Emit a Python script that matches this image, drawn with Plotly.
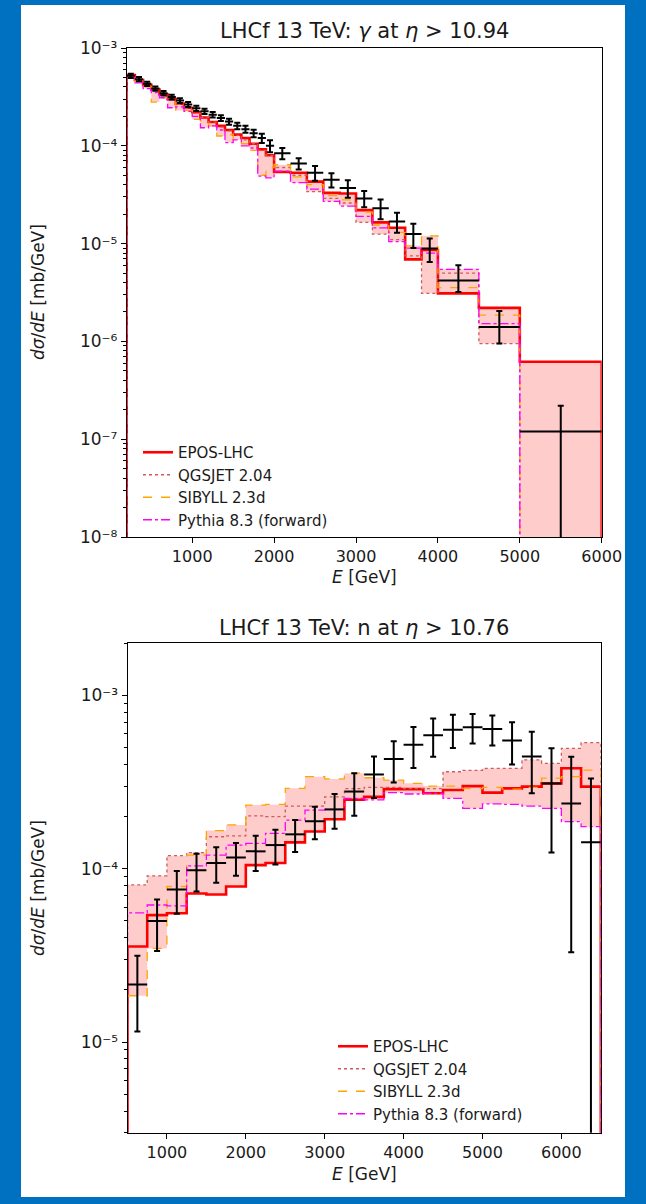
import plotly.graph_objects as go

# ---------------- photon spectrum, eta > 10.94 ----------------
gamma_edges = [200, 300, 400, 500, 600, 700, 800, 900, 1000, 1100, 1200, 1300,
               1400, 1500, 1600, 1700, 1800, 1900, 2000, 2200, 2400, 2600, 2800,
               3000, 3200, 3400, 3600, 3800, 4000, 4500, 5000, 6000]
gamma_data = [5.2e-4, 4.8e-4, 4.3e-4, 3.85e-4, 3.45e-4, 3.15e-4, 2.9e-4, 2.65e-4,
              2.42e-4, 2.25e-4, 2.08e-4, 1.92e-4, 1.77e-4, 1.6e-4, 1.48e-4, 1.34e-4,
              1.2e-4, 1.0e-4, 8.4e-5, 6.6e-5, 5.3e-5, 4.5e-5, 3.7e-5, 2.9e-5,
              2.3e-5, 1.68e-5, 1.25e-5, 8.9e-6, 4.2e-6, 1.4e-6, 1.2e-7]
gamma_err_up = [2.6e-5, 2.4e-5, 2.2e-5, 2.0e-5, 1.8e-5, 1.7e-5, 1.6e-5, 1.5e-5,
                1.45e-5, 1.4e-5, 1.35e-5, 1.3e-5, 1.25e-5, 1.2e-5, 1.2e-5, 1.2e-5,
                1.3e-5, 1.4e-5, 1.1e-5, 8.7e-6, 9.0e-6, 7.5e-6, 7.5e-6, 5.5e-6,
                5.3e-6, 3.9e-6, 3.5e-6, 2.4e-6, 1.8e-6, 6.5e-7, 1.0e-7]
gamma_err_dn = [2.6e-5, 2.4e-5, 2.2e-5, 2.0e-5, 1.8e-5, 1.7e-5, 1.6e-5, 1.5e-5,
                1.45e-5, 1.4e-5, 1.35e-5, 1.3e-5, 1.25e-5, 1.2e-5, 1.2e-5, 1.2e-5,
                1.3e-5, 1.4e-5, 1.1e-5, 8.7e-6, 9.0e-6, 7.5e-6, 7.5e-6, 5.5e-6,
                5.3e-6, 3.9e-6, 3.5e-6, 2.4e-6, 1.0e-6, 4.5e-7, 1.2e-7]
gamma_epos = [5.3e-4, 4.7e-4, 4.2e-4, 3.75e-4, 3.35e-4, 3.0e-4, 2.7e-4, 2.45e-4,
              2.2e-4, 1.95e-4, 1.75e-4, 1.6e-4, 1.45e-4, 1.3e-4, 1.2e-4, 1.05e-4,
              9.2e-5, 8.0e-5, 5.4e-5, 5.3e-5, 4.3e-5, 3.3e-5, 3.25e-5, 2.2e-5,
              1.65e-5, 1.45e-5, 6.9e-6, 8.6e-6, 3.1e-6, 2.2e-6, 6.2e-7]
gamma_qgsjet = [5.1e-4, 4.6e-4, 4.1e-4, 3.7e-4, 3.3e-4, 2.95e-4, 2.65e-4, 2.4e-4,
                2.15e-4, 1.95e-4, 1.75e-4, 1.55e-4, 1.42e-4, 1.28e-4, 1.15e-4, 1.05e-4,
                9.0e-5, 8.0e-5, 6.0e-5, 5.0e-5, 3.4e-5, 2.9e-5, 2.6e-5, 1.65e-5,
                1.25e-5, 1.1e-5, 7.5e-6, 3.1e-6, 5.0e-6, 9.5e-7, 0.0]
gamma_sibyll = [5.2e-4, 4.6e-4, 4.0e-4, 2.8e-4, 3.1e-4, 2.8e-4, 2.3e-4, 2.3e-4,
                1.86e-4, 1.8e-4, 1.6e-4, 1.26e-4, 1.3e-4, 1.15e-4, 1.05e-4, 9.0e-5,
                5.0e-5, 6.0e-5, 6.4e-5, 4.8e-5, 4.0e-5, 3.1e-5, 2.8e-5, 2.1e-5,
                1.55e-5, 1.3e-5, 9.5e-6, 1.2e-5, 3.55e-6, 1.86e-6, 0.0]
gamma_pythia = [5.0e-4, 4.4e-4, 3.85e-4, 3.5e-4, 3.1e-4, 2.45e-4, 2.5e-4, 2.25e-4,
                2.0e-4, 1.53e-4, 1.6e-4, 1.45e-4, 1.08e-4, 1.15e-4, 1.0e-4, 9.5e-5,
                4.9e-5, 4.7e-5, 5.5e-5, 4.2e-5, 3.6e-5, 2.7e-5, 2.42e-5, 1.9e-5,
                1.45e-5, 1.05e-5, 9.0e-6, 8.0e-6, 5.46e-6, 1.52e-6, 0.0]

# ---------------- neutron spectrum, eta > 10.76 ----------------
n_edges = [500, 750, 1000, 1250, 1500, 1750, 2000, 2250, 2500, 2750, 3000, 3250,
           3500, 3750, 4000, 4250, 4500, 4750, 5000, 5250, 5500, 5750, 6000,
           6250, 6500]
n_data = [2.15e-5, 5.0e-5, 7.6e-5, 9.8e-5, 1.08e-4, 1.16e-4, 1.26e-4, 1.37e-4,
          1.58e-4, 1.88e-4, 2.2e-4, 2.79e-4, 3.5e-4, 4.3e-4, 5.2e-4, 5.9e-4,
          6.35e-4, 6.55e-4, 6.4e-4, 5.5e-4, 4.45e-4, 3.1e-4, 2.38e-4, 1.42e-4]
n_err = [1.0e-5, 1.65e-5, 2.1e-5, 2.4e-5, 2.5e-5, 2.5e-5, 2.9e-5, 3.1e-5,
         3.3e-5, 4.0e-5, 5.0e-5, 7.7e-5, 9.4e-5, 1.15e-4, 1.38e-4, 1.47e-4,
         1.38e-4, 1.26e-4, 1.26e-4, 1.5e-4, 1.72e-4, 1.86e-4, 2.05e-4, 1.9e-4]
n_epos = [3.56e-5, 5.4e-5, 5.54e-5, 7.2e-5, 7.1e-5, 7.9e-5, 1.05e-4, 1.08e-4,
          1.42e-4, 1.64e-4, 1.93e-4, 2.5e-4, 2.6e-4, 2.88e-4, 2.88e-4, 2.73e-4,
          2.85e-4, 3.0e-4, 2.75e-4, 2.91e-4, 2.98e-4, 3.11e-4, 3.8e-4, 2.98e-4]
n_qgsjet = [8.07e-5, 9.1e-5, 1.19e-4, 1.24e-4, 1.53e-4, 1.55e-4, 2.02e-4, 2.0e-4,
            2.3e-4, 2.3e-4, 2.6e-4, 2.9e-4, 2.95e-4, 2.95e-4, 2.9e-4, 2.9e-4,
            3.63e-4, 3.7e-4, 3.79e-4, 3.8e-4, 4.25e-4, 4.06e-4, 4.95e-4, 5.34e-4]
n_sibyll = [1.85e-5, 3.47e-5, 7.9e-5, 1.2e-4, 1.66e-4, 1.79e-4, 2.33e-4, 2.35e-4,
            2.91e-4, 3.4e-4, 3.3e-4, 3.56e-4, 3.35e-4, 3.25e-4, 3.11e-4, 3.0e-4,
            3.0e-4, 2.9e-4, 2.95e-4, 2.88e-4, 2.95e-4, 3.33e-4, 3.4e-4, 3.71e-4]
n_pythia = [5.57e-5, 6.18e-5, 6.1e-5, 1.04e-4, 1.2e-4, 1.37e-4, 1.4e-4, 1.6e-4,
            1.91e-4, 2.18e-4, 2.2e-4, 2.55e-4, 2.5e-4, 2.75e-4, 2.7e-4, 2.72e-4,
            2.55e-4, 2.23e-4, 2.37e-4, 2.35e-4, 2.3e-4, 2.23e-4, 1.87e-4, 1.75e-4]

# axis tick labels
x_tick_vals = [1000, 2000, 3000, 4000, 5000, 6000]
x_tick_text = ["1000", "2000", "3000", "4000", "5000", "6000"]
gamma_y_tick_vals = [1e-8, 1e-7, 1e-6, 1e-5, 1e-4, 1e-3]
gamma_y_tick_text = ["10⁻⁸", "10⁻⁷", "10⁻⁶", "10⁻⁵", "10⁻⁴", "10⁻³"]
n_y_tick_vals = [1e-5, 1e-4, 1e-3]
n_y_tick_text = ["10⁻⁵", "10⁻⁴", "10⁻³"]

model_names = ["EPOS-LHC", "QGSJET 2.04", "SIBYLL 2.3d", "Pythia 8.3 (forward)"]
model_colors = ["#ff0000", "#cd5c5c", "#ffa500", "#ff00ff"]
model_dashes = ["solid", "dot", "dash", "dashdot"]
model_widths = [2.6, 1.3, 1.3, 1.3]

FLOOR = 1e-12  # stand-in for empty bins on the log axis (falls far below the frame)
FONT = "DejaVu Sans"
W, H = 646, 1204


def stair(edges, vals):
    """Closed step outline of a histogram (drops to zero at both ends)."""
    xs, ys = [edges[0]], [FLOOR]
    for i, v in enumerate(vals):
        v = v if v > 0 else FLOOR
        xs += [edges[i], edges[i + 1]]
        ys += [v, v]
    xs.append(edges[-1])
    ys.append(FLOOR)
    return xs, ys


def envelope(edges, models):
    """Polygon spanning the min/max of all model histograms, bin by bin."""
    n = len(edges) - 1
    hi = [max(m[i] for m in models) for i in range(n)]
    lo = [max(min(m[i] for m in models), FLOOR) for i in range(n)]
    ux, uy, lx, ly = [], [], [], []
    for i in range(n):
        ux += [edges[i], edges[i + 1]]
        uy += [hi[i], hi[i]]
        lx += [edges[i], edges[i + 1]]
        ly += [lo[i], lo[i]]
    return ux + lx[::-1], uy + ly[::-1]


def add_panel(fig, edges, data, err_up, err_dn, models, xa, ya, legend):
    bx, by = envelope(edges, models)
    fig.add_trace(go.Scatter(x=bx, y=by, fill="toself", fillcolor="rgba(255,0,0,0.2)",
                             line=dict(width=0), mode="lines", hoverinfo="skip",
                             showlegend=False, xaxis=xa, yaxis=ya))
    for name, vals, col, dash, lw in zip(model_names, models, model_colors,
                                          model_dashes, model_widths):
        sx, sy = stair(edges, vals)
        fig.add_trace(go.Scatter(x=sx, y=sy, mode="lines", name=name,
                                 line=dict(color=col, dash=dash, width=lw),
                                 legend=legend, xaxis=xa, yaxis=ya))
    centers = [(edges[i] + edges[i + 1]) / 2 for i in range(len(data))]
    halfw = [(edges[i + 1] - edges[i]) / 2 for i in range(len(data))]
    fig.add_trace(go.Scatter(
        x=centers, y=data, mode="markers", showlegend=False,
        marker=dict(size=1, color="black"),
        error_x=dict(type="data", array=halfw, color="black", thickness=2, width=0),
        error_y=dict(type="data", symmetric=False, array=err_up, arrayminus=err_dn,
                     color="black", thickness=2, width=3),
        xaxis=xa, yaxis=ya))


fig = go.Figure()
add_panel(fig, gamma_edges, gamma_data, gamma_err_up, gamma_err_dn,
          [gamma_epos, gamma_qgsjet, gamma_sibyll, gamma_pythia], "x", "y", "legend")
add_panel(fig, n_edges, n_data, n_err, n_err,
          [n_epos, n_qgsjet, n_sibyll, n_pythia], "x2", "y2", "legend2")

minor_vals = [k * 10.0 ** p for p in range(-9, -1) for k in range(2, 10)]

common_x = dict(showgrid=False, zeroline=False, showline=True, linecolor="black",
                linewidth=1, mirror=True, ticks="outside", ticklen=5, tickwidth=1,
                tickcolor="black", tickmode="array", tickvals=x_tick_vals,
                ticktext=x_tick_text, automargin=False,
                tickfont=dict(family=FONT, size=16, color="#1a1a1a"))
common_y = dict(type="log", showgrid=False, zeroline=False, showline=True,
                linecolor="black", linewidth=1, mirror=True, ticks="outside",
                ticklen=5, tickwidth=1, tickcolor="black", tickmode="array",
                automargin=False,
                tickfont=dict(family=FONT, size=17, color="#1a1a1a"),
                minor=dict(tickvals=minor_vals, ticks="outside", ticklen=3,
                           tickcolor="black", tickwidth=1, showgrid=False))


def px_x(a, b):
    return [a / W, b / W]


def px_y(top, bottom):
    return [1 - bottom / H, 1 - top / H]


fig.update_layout(
    width=W, height=H,
    margin=dict(l=0, r=0, t=0, b=0, pad=0, autoexpand=False),
    paper_bgcolor="#0070c0", plot_bgcolor="white",
    xaxis=dict(common_x, domain=px_x(126.7, 601.7), range=[200, 6000], anchor="y"),
    yaxis=dict(common_y, domain=px_y(48, 537), range=[-8, -3], anchor="x",
               tickvals=gamma_y_tick_vals, ticktext=gamma_y_tick_text),
    xaxis2=dict(common_x, domain=px_x(127.5, 600.8), range=[500, 6500], anchor="y2"),
    yaxis2=dict(common_y, domain=px_y(643.3, 1132.7), range=[-5.523, -2.699],
                anchor="x2", tickvals=n_y_tick_vals, ticktext=n_y_tick_text),
    legend=dict(x=138 / W, y=1 - 436 / H, xanchor="left", yanchor="top",
                bgcolor="rgba(0,0,0,0)", font=dict(family=FONT, size=15, color="#1a1a1a")),
    legend2=dict(x=333 / W, y=1 - 1030 / H, xanchor="left", yanchor="top",
                 bgcolor="rgba(0,0,0,0)", font=dict(family=FONT, size=15, color="#1a1a1a")),
    shapes=[dict(type="rect", xref="paper", yref="paper", layer="below",
                 x0=21 / W, x1=625 / W, y0=1 - 1197 / H, y1=1 - 5 / H,
                 fillcolor="white", line=dict(width=0))],
)

txt = dict(family=FONT, color="#1a1a1a")
annotations = [
    dict(text="LHCf 13 TeV: <i>γ</i> at <i>η</i> > 10.94", x=364.2 / W, y=1 - 31 / H,
         font=dict(txt, size=21)),
    dict(text="LHCf 13 TeV: n at <i>η</i> > 10.76", x=364.2 / W, y=1 - 628 / H,
         font=dict(txt, size=21)),
    dict(text="<i>E</i> [GeV]", x=364.2 / W, y=1 - 577 / H, font=dict(txt, size=17)),
    dict(text="<i>E</i> [GeV]", x=364.2 / W, y=1 - 1174 / H, font=dict(txt, size=17)),
    dict(text="<i>dσ</i>/<i>dE</i> [mb/GeV]", x=38 / W, y=1 - 292 / H, textangle=-90,
         font=dict(txt, size=17)),
    dict(text="<i>dσ</i>/<i>dE</i> [mb/GeV]", x=38 / W, y=1 - 888 / H, textangle=-90,
         font=dict(txt, size=17)),
]
for a in annotations:
    a.update(xref="paper", yref="paper", xanchor="center", yanchor="middle",
             showarrow=False)
fig.update_layout(annotations=annotations)

fig.write_html("out.html")
